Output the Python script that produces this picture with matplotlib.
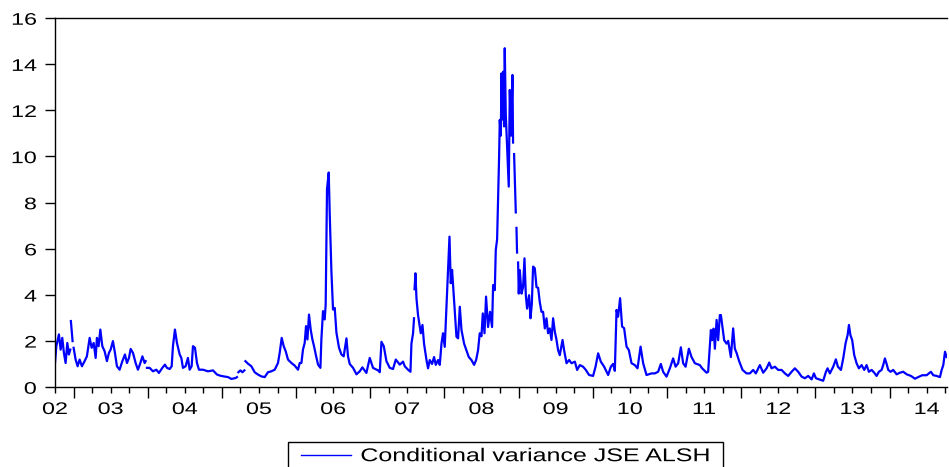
import numpy as np
import matplotlib
matplotlib.use("Agg")
import matplotlib.pyplot as plt
from matplotlib.ticker import FixedLocator, FixedFormatter, NullFormatter
from matplotlib.patheffects import AbstractPathEffect
from matplotlib.transforms import Affine2D
from matplotlib.path import Path

plt.rcParams["font.family"] = ["Liberation Sans", "DejaVu Sans"]

nan = np.nan

# conditional variance (decimal years, value); nan = missing obs
dates_a = [2002.250, 2002.268, 2002.303, 2002.326, 2002.348, 2002.370, 2002.393, 2002.416, 2002.437, 2002.456,
           2002.460, 2002.464, 2002.487, 2002.494, 2002.501, 2002.528, 2002.555, 2002.582, 2002.613, 2002.649,
           2002.680, 2002.717, 2002.744, 2002.771, 2002.798, 2002.815, 2002.838, 2002.861, 2002.888, 2002.919,
           2002.950, 2002.977, 2003.000, 2003.031, 2003.058, 2003.085, 2003.121, 2003.158, 2003.193, 2003.220,
           2003.247, 2003.270, 2003.301, 2003.337, 2003.368, 2003.401, 2003.428, 2003.459, 2003.472, 2003.481,
           2003.490, 2003.526, 2003.570, 2003.616, 2003.651, 2003.697, 2003.732, 2003.759, 2003.796, 2003.823,
           2003.840, 2003.867, 2003.894, 2003.931, 2003.953, 2003.975, 2004.011, 2004.042, 2004.065, 2004.092,
           2004.110, 2004.137, 2004.164, 2004.191, 2004.245, 2004.312, 2004.380, 2004.434, 2004.479, 2004.524,
           2004.582, 2004.628, 2004.686, 2004.703, 2004.712, 2004.722, 2004.749, 2004.776, 2004.803, 2004.810,
           2004.817, 2004.852, 2004.897, 2004.942, 2004.986]
var_a = [1.04, 1.77, 2.28, 1.62, 2.13, 1.48, 1.04, 1.91, 1.41, 1.62,
         nan, 2.86, 1.99, nan, 1.70, 1.19, 0.90, 1.19, 0.90, 1.12,
         1.33, 2.13, 1.70, 1.91, 1.26, 2.13, 1.77, 2.49, 1.77, 1.55,
         1.12, 1.48, 1.62, 1.99, 1.48, 0.90, 0.75, 1.12, 1.41, 1.04,
         1.26, 1.65, 1.48, 1.04, 0.75, 1.04, 1.33, 1.04, 1.12, nan,
         0.83, 0.83, 0.68, 0.75, 0.61, 0.83, 0.97, 0.83, 0.78, 0.90,
         1.77, 2.49, 1.91, 1.41, 1.26, 0.83, 0.90, 1.26, 0.75, 0.90,
         1.77, 1.70, 1.04, 0.75, 0.75, 0.68, 0.72, 0.54, 0.49, 0.46,
         0.43, 0.35, 0.39, 0.43, nan, 0.64, 0.72, 0.64, 0.72, nan,
         1.12, 1.01, 0.90, 0.64, 0.54]

dates_b = [2005.032, 2005.077, 2005.121, 2005.167, 2005.212, 2005.256, 2005.279, 2005.306, 2005.333, 2005.360,
           2005.391, 2005.437, 2005.481, 2005.526, 2005.549, 2005.572, 2005.593, 2005.616, 2005.634, 2005.653,
           2005.674, 2005.697, 2005.720, 2005.742, 2005.765, 2005.796, 2005.828, 2005.841, 2005.863, 2005.886,
           2005.899, 2005.917, 2005.940, 2005.953, 2005.976, 2005.998, 2006.021, 2006.044, 2006.079, 2006.111,
           2006.142, 2006.179, 2006.200, 2006.223, 2006.268, 2006.314, 2006.358, 2006.394, 2006.448, 2006.493,
           2006.537, 2006.605, 2006.628, 2006.651, 2006.682, 2006.718, 2006.763, 2006.807, 2006.844, 2006.898,
           2006.942, 2006.965, 2007.009, 2007.042, 2007.055, 2007.077, 2007.090, 2007.094, 2007.097, 2007.109,
           2007.123, 2007.144, 2007.181, 2007.204, 2007.225, 2007.258, 2007.279, 2007.302, 2007.333, 2007.360,
           2007.383, 2007.414, 2007.437, 2007.460, 2007.481, 2007.504, 2007.527, 2007.549, 2007.568, 2007.585,
           2007.603, 2007.630, 2007.662, 2007.684, 2007.707, 2007.730, 2007.765, 2007.797, 2007.828, 2007.864,
           2007.900, 2007.927, 2007.953, 2007.976]
var_b = [0.46, 0.43, 0.64, 0.68, 0.75, 1.04, 1.48, 2.13, 1.77, 1.55,
         1.19, 1.04, 0.93, 0.75, 1.04, 1.04, 1.62, 1.91, 2.64, 2.06,
         3.14, 2.49, 2.06, 1.77, 1.41, 0.97, 0.83, 2.06, 3.29, 2.93,
         3.58, 8.58, 9.30, 7.57, 5.03, 3.36, 3.43, 2.35, 1.70, 1.41,
         1.33, 2.11, 1.33, 1.00, 0.83, 0.55, 0.68, 0.85, 0.61, 1.26,
         0.83, 0.72, 0.64, 1.96, 1.77, 1.12, 0.83, 0.78, 1.19, 0.97,
         1.10, 0.90, 0.75, 0.66, 1.88, 2.33, 2.98, nan, 4.24, 4.93,
         3.84, 3.12, 2.33, 2.69, 1.88, 1.17, 0.81, 1.17, 1.00, 1.30,
         0.96, 1.17, 0.96, 1.88, 2.33, 1.74, 3.48, 5.22, 6.52, 4.50,
         5.08, 3.77, 2.18, 2.11, 3.48, 2.47, 1.88, 1.59, 1.30, 1.17,
         0.96, 1.17, 1.59, 2.33]

dates_c = [2007.999, 2008.017, 2008.040, 2008.061, 2008.088, 2008.115, 2008.142, 2008.156, 2008.179, 2008.192,
           2008.210, 2008.223, 2008.237, 2008.246, 2008.260, 2008.269, 2008.280, 2008.291, 2008.304, 2008.313,
           2008.327, 2008.345, 2008.367, 2008.381, 2008.398, 2008.417, 2008.425, 2008.432, 2008.439, 2008.462,
           2008.466, 2008.471, 2008.479, 2008.486, 2008.493, 2008.502, 2008.516, 2008.539, 2008.560, 2008.579,
           2008.597, 2008.614, 2008.641, 2008.660, 2008.678, 2008.695, 2008.718, 2008.741, 2008.763, 2008.785,
           2008.808, 2008.830, 2008.853, 2008.876, 2008.897, 2008.920, 2008.943, 2008.965, 2008.988, 2009.011,
           2009.032, 2009.055, 2009.092, 2009.113, 2009.146, 2009.181, 2009.213, 2009.258, 2009.289, 2009.325,
           2009.369, 2009.406, 2009.450, 2009.504, 2009.537, 2009.572, 2009.608, 2009.653, 2009.707, 2009.743,
           2009.774, 2009.797, 2009.820, 2009.841, 2009.868, 2009.895, 2009.922, 2009.955, 2009.986, 2010.022,
           2010.067, 2010.103, 2010.144, 2010.179, 2010.224, 2010.292, 2010.336, 2010.381, 2010.417, 2010.448,
           2010.494, 2010.539, 2010.583, 2010.616, 2010.651, 2010.687, 2010.718, 2010.751, 2010.795, 2010.831,
           2010.876, 2010.943, 2010.974]
var_c = [2.20, 3.19, 2.33, 3.92, 2.60, 3.26, 2.60, 4.42, 4.20, 5.94,
         6.40, 8.11, 9.99, 11.58, 10.90, 13.60, 11.60, 13.67, 11.30, 14.69,
         11.80, 10.42, 8.69, 12.88, 10.90, 13.53, 10.60, nan, 10.10, 7.57,
         nan, 6.90, 5.83, nan, 5.40, 4.05, 5.07, 4.05, 4.33, 5.58,
         3.98, 3.40, 3.98, 2.98, 3.60, 5.22, 5.15, 4.33, 4.30, 3.69,
         3.26, 3.26, 2.54, 2.98, 2.33, 2.54, 2.04, 2.98, 2.40, 2.04,
         1.60, 1.38, 2.04, 1.60, 1.03, 1.17, 1.03, 1.10, 0.74, 0.95,
         0.88, 0.74, 0.52, 0.48, 0.88, 1.46, 1.10, 0.88, 0.52, 0.88,
         1.00, 0.70, 3.34, 3.05, 3.85, 2.62, 2.55, 1.75, 1.60, 1.03,
         0.95, 0.81, 1.75, 1.03, 0.52, 0.59, 0.59, 0.66, 1.00, 0.66,
         0.45, 0.81, 1.24, 0.88, 1.03, 1.72, 1.03, 0.88, 1.66, 1.30,
         1.03, 0.95, 0.81]

dates_d = [2011.034, 2011.055, 2011.092, 2011.109, 2011.128, 2011.146, 2011.169, 2011.190, 2011.213, 2011.227,
           2011.244, 2011.271, 2011.303, 2011.325, 2011.361, 2011.392, 2011.415, 2011.438, 2011.473, 2011.519,
           2011.573, 2011.618, 2011.662, 2011.698, 2011.752, 2011.797, 2011.843, 2011.878, 2011.910, 2011.955,
           2011.999, 2012.045, 2012.090, 2012.134, 2012.180, 2012.224, 2012.269, 2012.315, 2012.359, 2012.404,
           2012.450, 2012.481, 2012.508, 2012.552, 2012.606, 2012.643, 2012.665, 2012.696, 2012.741, 2012.777,
           2012.804, 2012.845, 2012.876, 2012.908, 2012.935, 2012.953, 2012.973, 2012.997, 2013.024, 2013.056,
           2013.087, 2013.124, 2013.159, 2013.191, 2013.222, 2013.259, 2013.294, 2013.326, 2013.357, 2013.393,
           2013.415, 2013.438, 2013.461, 2013.483, 2013.515, 2013.550, 2013.596, 2013.641, 2013.685, 2013.731,
           2013.789, 2013.843, 2013.887, 2013.941, 2014.000, 2014.058, 2014.090, 2014.135, 2014.180, 2014.203,
           2014.225, 2014.248, 2014.270]
var_d = [0.62, 0.66, 2.47, 2.03, 2.53, 1.66, 2.91, 2.03, 3.12, 3.12,
         2.69, 2.03, 1.88, 2.00, 1.30, 2.54, 1.66, 1.48, 1.12, 0.74,
         0.59, 0.59, 0.74, 0.59, 0.95, 0.62, 0.81, 1.06, 0.81, 0.88,
         0.74, 0.74, 0.59, 0.48, 0.66, 0.81, 0.66, 0.45, 0.38, 0.48,
         0.33, 0.59, 0.38, 0.33, 0.27, 0.66, 0.81, 0.59, 0.88, 1.20,
         0.88, 0.74, 1.24, 1.90, 2.25, 2.69, 2.25, 2.03, 1.39, 1.03,
         0.81, 0.95, 0.74, 0.95, 0.66, 0.74, 0.62, 0.48, 0.66, 0.74,
         0.95, 1.24, 1.00, 0.74, 0.66, 0.74, 0.55, 0.62, 0.66, 0.55,
         0.48, 0.36, 0.43, 0.51, 0.51, 0.66, 0.51, 0.48, 0.43, 0.74,
         0.95, 1.53, 1.30]

year_ticks = [2002.25] + list(range(2003, 2015))
year_labels = ["02", "03", "04", "05", "06", "07", "08", "09", "10", "11", "12", "13", "14"]

dates = np.array(dates_a + dates_b + dates_c + dates_d)
cond_var = np.array(var_a + var_b + var_c + var_d)


# the source image has wide, flat lettering: squash glyphs vertically about their centre
class Squeeze(AbstractPathEffect):
    def __init__(self, sy):
        super().__init__()
        self.sy = sy

    def draw_path(self, renderer, gc, tpath, affine, rgbFace=None):
        ext = tpath.get_extents()
        cy = 0.5 * (ext.y0 + ext.y1)
        squash = Affine2D().translate(0, -cy).scale(1, self.sy).translate(0, cy)
        renderer.draw_path(gc, tpath, squash + affine, rgbFace)


def wide_box(x0, y0, width, height, mutation_size):
    # legend frame with extra room left and right only
    padx = 0.42 * mutation_size
    return Path([(x0 - padx, y0), (x0 + width + padx, y0), (x0 + width + padx, y0 + height),
                 (x0 - padx, y0 + height), (x0 - padx, y0)], closed=True)


fig = plt.figure(figsize=(9.49, 4.67), dpi=100)
ax = fig.add_axes([55 / 949, 1 - 387 / 467, (947 - 55) / 949, (387 - 18) / 467])

ax.plot(dates, cond_var, color="#0000ff", lw=1.6, label="Conditional variance JSE ALSH")

ax.set_xlim(2002.25, 2014.275)
ax.set_ylim(0, 16)
ax.set_yticks(range(0, 17, 2))
ax.tick_params(axis="y", direction="out", length=7.5, width=1, pad=5.5, labelsize=16.8)

# labelled years with short ticks, half-years with long ticks
ax.xaxis.set_major_locator(FixedLocator(year_ticks))
ax.xaxis.set_major_formatter(FixedFormatter(year_labels))
half_years = [y + 0.5 for y in range(2002, 2014)]
ax.xaxis.set_minor_locator(FixedLocator(half_years))
ax.xaxis.set_minor_formatter(NullFormatter())
ax.tick_params(axis="x", which="major", direction="out", length=4.5, width=1, pad=3.6, labelsize=16.8)
ax.tick_params(axis="x", which="minor", direction="out", length=8, width=1)

# remaining quarter ticks
quarters = [y + q for y in range(2002, 2015) for q in (0.25, 0.75)]
quarters = [q for q in quarters if 2002.3 < q < 2014.27]
sec = ax.secondary_xaxis("bottom")
sec.set_xticks(quarters)
sec.set_xticklabels([])
sec.tick_params(direction="out", length=4.5, width=1)
sec.spines["bottom"].set_visible(False)

for side in ("left", "bottom", "top"):
    ax.spines[side].set_linewidth(1)
    ax.spines[side].set_color("black")
ax.spines["right"].set_visible(False)

for lab in ax.get_xticklabels() + ax.get_yticklabels():
    lab.set_path_effects([Squeeze(0.72)])

leg = fig.legend(loc="upper center", bbox_to_anchor=(0.533, 1 - 442 / 467), fontsize=18,
                 frameon=True, fancybox=False, edgecolor="black", framealpha=1,
                 handlelength=2.0, handletextpad=0.36, borderpad=0.1, borderaxespad=0)
leg.legendPatch.set_boxstyle(wide_box)
leg.legendPatch.set_linewidth(1)
for txt in leg.get_texts():
    txt.set_path_effects([Squeeze(0.74)])
for hl in leg.get_lines():
    hl.set_linewidth(1)

fig.savefig("out.png", dpi=100)
